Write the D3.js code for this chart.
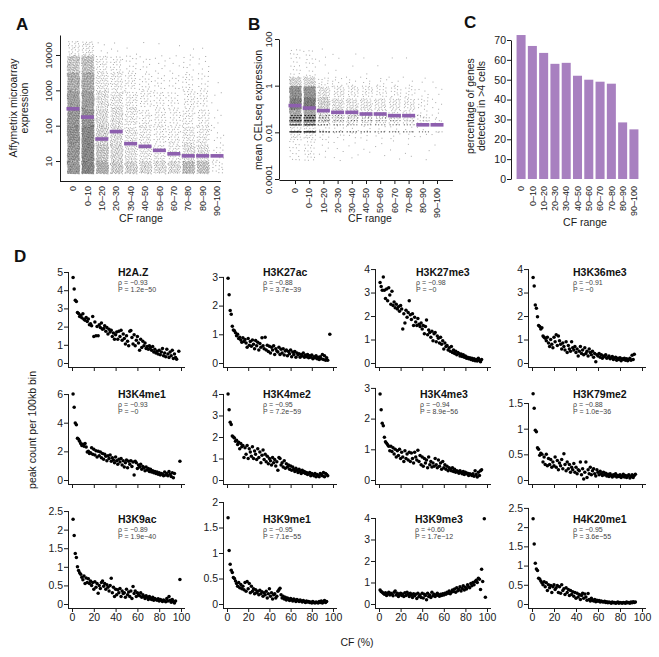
<!DOCTYPE html>
<html><head><meta charset="utf-8">
<script src="https://cdn.jsdelivr.net/npm/d3@7"></script>
<style>
body{margin:0;background:#fff;}
svg{display:block;font-family:"Liberation Sans",Arial,Helvetica,sans-serif;}
</style></head>
<body><svg id="c" width="659" height="657"></svg>
<script>
// ---------------- DATA ----------------
const categories = ["0","0–10","10–20","20–30","30–40","40–50","50–60","60–70","70–80","80–90","90–100"];

// Panel A: medians and point-cloud density (counts per log10 bin)
const aMedians = [300,175,42,68,31,26,20,16,14,14,14];
const aBinEdges = [0.65,1.0,1.5,2.0,2.5,3.0,3.5,4.0,4.4];
const aBinCounts = [
  [210,300,320,300,270,220,140,25],
  [260,360,360,310,270,230,160,30],
  [150,140,105,85,70,50,32,4],
  [90,95,80,70,55,40,25,3],
  [80,65,52,44,35,26,13,2],
  [68,50,40,31,26,18,9,1],
  [58,40,31,27,22,13,7,1],
  [62,40,31,22,18,11,5,1],
  [125,75,45,31,26,18,9,2],
  [108,66,40,31,22,13,7,1],
  [15,12,8,5,3,1,0,0]
];
const aTicks = [10,100,1000,10000];

// Panel B: medians, continuous cloud density and discrete low levels
const bMedians = [0.14,0.11,0.085,0.072,0.072,0.061,0.061,0.052,0.052,0.021,0.021];
const bBinEdges = [-3.2,-2.3,-1.6,-1.0,-0.5,0,0.4,1.6];
const bBinCounts = [
  [16,30,190,270,220,55,20],
  [22,34,200,280,210,50,18],
  [6,11,60,75,42,11,5],
  [5,9,40,45,27,7,3],
  [4,9,36,40,22,6,2],
  [3,7,32,36,20,5,2],
  [3,7,27,31,16,5,1],
  [3,7,25,29,14,4,1],
  [3,7,22,25,11,3,1],
  [2,5,11,11,5,2,0],
  [1,3,5,5,3,1,0]
];
const bLevels = [0.0105,0.021,0.0315,0.042,0.0525];
const bLevelCounts = [
  [55,42,32,25,18],[60,45,35,27,20],[22,16,11,9,7],[14,10,8,6,5],[13,9,7,6,5],
  [12,8,6,5,4],[11,8,6,5,4],[11,8,6,5,4],[10,7,5,4,3],[8,5,4,3,2],[3,2,1,1,0]
];
const bTicks = [0.0001,0.01,1,100];
const bTickLabels = ["0.0001","0.01","1","100"];

// Panel C
const cValues = [72.5,67,63.5,58,58.5,52,50,49,48,28.5,25];
const cTicks = [0,10,20,30,40,50,60,70];

// Panel D
const dNames = ["H2A.Z","H3K27ac","H3K27me3","H3K36me3","H3K4me1","H3K4me2","H3K4me3","H3K79me2","H3K9ac","H3K9me1","H3K9me3","H4K20me1"];
const dRho = ["−0.93","−0.88","−0.98","−0.91","−0.93","−0.95","−0.94","−0.88","−0.89","−0.95","+0.60","−0.95"];
const dP = ["1.2e−50","3.7e−39","~0","~0","~0","7.2e−59","8.9e−56","1.0e−36","1.9e−40","7.1e−55","1.7e−12","3.6e−55"];
const dYTicks = [
  [0,1,2,3,4,5],[0,1,2,3],[0,1,2,3,4],[0,1,2,3,4],
  [0,2,4,6],[0,1,2,3,4],[0,1,2,3],[0,0.5,1,1.5],
  [0,0.5,1,1.5,2,2.5],[0,0.5,1,1.5,2],[0,1,2,3,4],[0,0.5,1,1.5,2,2.5]
];
const dYMax = [5.33,3.38,4.13,4.13, 6.77,4.51,3.16,1.89, 2.77,2.02,4.79,2.68];
const xTicksD = [0,20,40,60,80,100];
// values at CF = 1,2,3,...
const dValues = [
 [4.7,4.07,3.45,3.38,2.78,2.72,2.55,2.62,2.48,2.7,2.4,2.35,2.5,2.28,2.42,2.1,2.15,2.05,2.55,1.45,2.25,1.5,2.0,1.5,2.1,1.95,2.2,1.85,1.9,2.05,1.75,1.95,1.6,1.85,1.7,1.8,1.45,1.65,1.3,1.55,1.7,1.3,1.75,1.45,1.8,1.25,1.6,1.35,1.05,1.5,1.2,0.95,1.75,1.78,1.4,1.05,1.55,0.95,1.25,1.45,1.1,0.7,1.3,0.85,1.2,0.95,1.1,0.8,0.9,0.75,0.95,0.85,0.7,0.9,0.6,0.75,0.55,0.65,0.5,0.7,0.45,0.6,0.8,0.4,0.55,0.35,0.75,0.5,0.3,0.6,0.4,0.7,0.25,0.5,0.3,0.2],
 [2.95,2.38,1.83,1.7,1.28,1.15,1.12,1.05,0.95,1.0,0.85,0.9,0.8,0.72,0.88,0.75,0.82,0.7,0.55,0.85,0.62,0.75,0.58,0.8,0.65,0.5,0.78,0.6,0.72,0.45,0.68,0.55,0.88,0.6,0.5,0.9,0.45,0.62,0.4,0.58,0.35,0.55,0.45,0.6,0.3,0.5,0.42,0.38,0.55,0.3,0.48,0.35,0.5,0.28,0.42,0.45,0.25,0.4,0.32,0.45,0.22,0.38,0.3,0.4,0.2,0.35,0.28,0.32,0.2,0.3,0.25,0.35,0.2,0.28,0.22,0.3,0.18,0.25,0.2,0.28,0.15,0.22,0.18,0.25,0.15,0.2,0.12,0.22,0.15,0.3,0.12,0.25,0.1,0.18,0.1],
 [3.43,3.26,3.1,3.66,3.1,2.75,3.15,2.65,3.2,2.9,2.5,3.05,2.45,2.6,2.35,2.5,2.3,2.4,2.2,2.45,2.3,1.45,2.1,1.7,2.25,1.95,2.15,2.65,2.05,1.85,2.1,1.6,1.95,1.75,1.6,1.9,1.65,1.55,1.7,1.45,1.6,1.25,1.55,1.83,1.2,1.4,1.3,1.1,1.35,0.95,1.25,1.3,0.9,1.15,1.05,0.85,1.1,0.8,0.95,0.6,0.85,0.7,0.75,0.55,0.65,0.5,0.7,0.45,0.55,0.4,0.5,0.35,0.45,0.4,0.3,0.38,0.28,0.35,0.25,0.3,0.2,0.25,0.18,0.22,0.15,0.2,0.12,0.18,0.1,0.15,0.08,0.2,0.12,0.05,0.15],
 [3.64,3.28,2.47,2.33,1.97,1.6,1.55,1.45,1.5,1.15,1.1,1.05,0.95,1.1,0.85,0.7,1.0,0.8,0.65,1.1,0.9,1.2,0.75,1.15,0.95,0.8,0.6,0.85,0.7,0.55,0.9,0.45,0.75,0.6,0.5,0.9,0.65,0.55,0.7,0.45,0.6,0.3,0.5,0.7,0.4,0.55,0.35,0.65,0.4,0.5,0.3,0.6,0.45,0.35,0.5,0.25,0.4,0.05,0.35,0.3,0.4,0.25,0.35,0.2,0.3,0.28,0.35,0.2,0.25,0.3,0.18,0.22,0.28,0.15,0.2,0.25,0.12,0.2,0.15,0.22,0.1,0.18,0.15,0.2,0.12,0.18,0.1,0.15,0.2,0.12,0.33,0.15,0.37],
 [6.0,5.07,3.97,3.85,2.92,2.85,2.7,2.55,2.4,2.5,2.35,2.55,2.3,1.95,2.0,1.85,1.9,2.25,1.8,2.15,1.75,2.05,1.6,2.0,1.7,1.95,1.55,1.85,1.45,1.8,1.65,1.35,1.7,1.5,1.75,1.3,1.55,1.4,1.2,1.6,1.35,1.1,1.45,1.25,1.5,1.05,1.35,0.9,1.2,1.4,0.85,1.3,1.1,1.35,0.95,1.25,0.35,1.3,1.2,0.8,1.05,0.9,1.1,0.75,0.95,0.85,0.65,0.9,0.7,0.8,0.6,0.75,0.55,0.65,0.5,0.6,0.45,0.55,0.4,0.5,0.35,0.45,0.4,0.3,0.55,0.35,0.45,0.3,0.6,0.4,0.25,0.5,0.15,0.45],
 [4.0,3.27,2.68,2.58,2.05,2.0,1.95,1.8,1.85,1.65,1.75,1.45,1.7,1.55,1.6,1.05,1.5,1.2,1.6,1.0,1.45,1.3,1.1,1.55,1.0,1.35,1.2,0.95,1.45,1.05,1.3,0.8,1.15,1.4,0.95,1.2,0.85,1.1,0.75,1.0,0.9,0.7,1.05,0.8,0.95,0.65,0.85,0.45,1.05,1.0,0.7,0.8,0.6,0.9,0.55,0.75,0.6,0.7,0.5,0.65,0.45,0.6,0.5,0.4,0.55,0.45,0.35,0.5,0.4,0.3,0.45,0.35,0.4,0.3,0.35,0.25,0.3,0.35,0.2,0.3,0.25,0.2,0.3,0.15,0.25,0.2,0.15,0.3,0.25,0.2,0.35,0.15,0.3,0.25,0.2],
 [2.8,2.29,1.85,1.77,1.39,1.25,1.2,1.15,1.1,0.95,1.1,0.93,1.05,0.85,1.0,0.75,0.95,0.8,1.0,0.7,0.9,0.75,0.6,0.95,0.7,0.85,0.65,0.9,0.6,0.88,0.7,0.55,0.9,0.75,0.65,0.97,0.6,0.8,0.5,0.75,0.45,0.7,0.55,0.65,0.4,0.75,0.5,0.6,0.42,0.55,0.45,0.7,0.5,0.4,0.65,0.45,0.55,0.35,0.6,0.4,0.5,0.35,0.45,0.3,0.4,0.35,0.3,0.4,0.28,0.35,0.25,0.3,0.28,0.22,0.3,0.25,0.2,0.28,0.18,0.25,0.2,0.22,0.15,0.2,0.18,0.15,0.2,0.12,0.3,0.18,0.1,0.25,0.15,0.3,0.33],
 [1.68,1.4,0.97,0.94,0.63,0.6,0.48,0.52,0.5,0.35,0.45,0.3,0.5,0.28,0.42,0.3,0.4,0.25,0.35,0.28,0.45,0.25,0.38,0.2,0.33,0.28,0.4,0.22,0.51,0.3,0.18,0.35,0.22,0.3,0.15,0.25,0.2,0.32,0.15,0.25,0.12,0.2,0.18,0.35,0.1,0.22,0.02,0.15,0.35,0.05,0.2,0.12,0.25,0.1,0.18,0.22,0.12,0.08,0.2,0.15,0.1,0.17,0.12,0.09,0.15,0.1,0.13,0.08,0.11,0.07,0.12,0.09,0.06,0.1,0.08,0.12,0.06,0.09,0.07,0.1,0.05,0.08,0.11,0.06,0.09,0.05,0.08,0.1,0.04,0.07,0.1,0.05,0.09,0.11],
 [2.28,1.84,1.36,1.25,1.0,0.9,0.84,0.8,0.72,0.65,0.75,0.55,0.7,0.58,0.68,0.55,0.62,0.5,0.58,0.4,0.6,0.45,0.55,0.29,0.5,0.42,0.58,0.62,0.48,0.55,0.4,0.52,0.45,0.35,0.5,0.69,0.3,0.45,0.2,0.4,0.25,0.38,0.3,0.42,0.2,0.35,0.28,0.3,0.18,0.4,0.25,0.32,0.2,0.35,0.15,0.47,0.28,0.35,0.2,0.3,0.25,0.22,0.3,0.18,0.25,0.2,0.15,0.22,0.18,0.12,0.2,0.15,0.12,0.18,0.1,0.15,0.12,0.1,0.14,0.08,0.12,0.1,0.07,0.11,0.09,0.06,0.15,0.08,0.2,0.1,0.05,0.12,0.06,0.03,0.08],
 [1.69,1.05,0.78,0.66,0.62,0.52,0.5,0.45,0.4,0.35,0.42,0.32,0.38,0.3,0.35,0.28,0.42,0.25,0.44,0.3,0.4,0.22,0.35,0.25,0.3,0.2,0.28,0.22,0.25,0.18,0.27,0.2,0.24,0.15,0.22,0.18,0.25,0.12,0.2,0.3,0.15,0.22,0.1,0.18,0.2,0.12,0.15,0.25,0.28,0.31,0.18,0.12,0.15,0.1,0.13,0.08,0.12,0.1,0.07,0.11,0.09,0.06,0.1,0.08,0.05,0.09,0.07,0.05,0.08,0.06,0.04,0.07,0.05,0.03,0.06,0.04,0.05,0.03,0.04,0.02,0.05,0.03,0.02,0.04,0.03,0.02,0.05,0.03,0.06,0.02,0.04,0.07,0.03,0.05],
 [0.65,0.58,0.55,0.5,0.45,0.52,0.4,0.48,0.55,0.42,0.5,0.45,0.38,0.55,0.6,0.42,0.5,0.35,0.45,0.5,0.4,0.47,0.35,0.52,0.4,0.55,0.45,0.35,0.5,0.42,0.3,0.48,0.38,0.45,0.25,0.5,0.35,0.42,0.3,0.5,0.28,0.45,0.4,0.2,0.5,0.35,0.42,0.3,0.55,0.38,0.45,0.35,0.42,0.5,0.4,0.36,0.45,0.4,0.48,0.42,0.5,0.45,0.55,0.5,0.6,0.48,0.55,0.65,0.58,0.7,0.55,0.75,0.62,0.68,0.8,0.6,0.72,0.85,0.65,0.78,0.7,0.9,0.8,0.75,0.95,0.85,1.0,0.9,1.05,1.1,1.0,1.2,1.15,0.68,1.62,1.05],
 [2.22,1.56,1.06,0.91,0.87,0.67,0.65,0.6,0.55,0.5,0.58,0.45,0.55,0.35,0.5,0.42,0.48,0.3,0.45,0.5,0.38,0.42,0.48,0.3,0.45,0.28,0.5,0.35,0.4,0.25,0.42,0.3,0.38,0.22,0.35,0.25,0.32,0.2,0.3,0.15,0.28,0.18,0.25,0.12,0.22,0.28,0.15,0.26,0.18,0.1,0.27,0.12,0.08,0.15,0.1,0.08,0.12,0.06,0.1,0.07,0.09,0.05,0.08,0.06,0.05,0.07,0.04,0.06,0.03,0.05,0.04,0.02,0.05,0.03,0.04,0.02,0.03,0.05,0.02,0.04,0.03,0.02,0.04,0.03,0.02,0.05,0.03,0.04,0.02,0.05,0.03,0.06,0.04,0.05]
];
// extra isolated points [CF, value]
const dExtra = [[[98,0.65]],[[97,1.0]],[],[],[[99,1.3]],[],[],[],[[99,0.66]],[],[[97.5,3.97],[98.5,0.31]],[]];

// ---------------- LAYOUT ----------------
const svg = d3.select("#c");
svg.append("rect").attr("width",659).attr("height",657).attr("fill","#fff");
const INK = "#1a1a1a";
const MED = "#8d5fae";
const BAR = "#a880c0";
const fmt = d3.format("~g");

function letter(t,x,y){ svg.append("text").attr("x",x).attr("y",y).attr("font-size",17).attr("font-weight","bold").attr("fill","#111").text(t); }
letter("A",16,30); letter("B",248,30); letter("C",464,28); letter("D",14,262);

// quasi-uniform jitter sequence (R2 low-discrepancy) for strip placement
function q(n){ return [(0.5+n*0.7548776662)%1, (0.5+n*0.5698402910)%1]; }

function rotLabels(g, xs, labels, yTop, size){
  labels.forEach((l,i)=>{
    g.append("text").attr("transform",`translate(${xs(l)},${yTop}) rotate(-90)`)
     .attr("text-anchor","end").attr("dy","0.35em").attr("font-size",size).attr("fill",INK).text(l);
  });
}

// ---------------- PANEL A ----------------
{
  const g = svg.append("g");
  const x = d3.scalePoint().domain(categories).range([73,217]);
  const y = d3.scaleLog().domain([2.72,36800]).range([181,35]);
  const pts = g.append("g");
  categories.forEach((c,ci)=>{
    let n=0;
    aBinCounts[ci].forEach((cnt,b)=>{
      const e0=aBinEdges[b], e1=aBinEdges[b+1];
      for(let k=0;k<cnt;k++){
        n++; const [u,v]=q(n+ci*7);
        pts.append("rect").attr("x",x(c)+(u-0.5)*12.5).attr("y",y(Math.pow(10,e0+v*(e1-e0))))
          .attr("width",1).attr("height",1).attr("fill","#000").attr("opacity",0.36);
      }
    });
  });
  g.selectAll(".med").data(aMedians).enter().append("rect")
    .attr("x",(d,i)=>x(categories[i])-6.5).attr("y",d=>y(d)-1.8).attr("width",13).attr("height",3.6).attr("fill",MED);
  const ax = g.append("g").attr("transform","translate(60,0)")
    .call(d3.axisLeft(y).tickValues(aTicks).tickFormat(d3.format("d")).tickSize(4).tickSizeOuter(0));
  ax.select(".domain").attr("stroke",INK);
  ax.selectAll("line").attr("stroke",INK);
  ax.selectAll("text").attr("transform","rotate(-90)").attr("x",0).attr("y",-8).attr("dy",0)
    .attr("text-anchor","middle").attr("font-size",9.5).attr("fill",INK).attr("font-family",null);
  g.append("line").attr("x1",60).attr("x2",221).attr("y1",181.5).attr("y2",181.5).attr("stroke",INK);
  rotLabels(g,x,categories,186,9);
  g.append("text").attr("transform","translate(17,108) rotate(-90)").attr("text-anchor","middle").attr("font-size",10.5).attr("fill",INK).text("Affymetrix microarray");
  g.append("text").attr("transform","translate(28,108) rotate(-90)").attr("text-anchor","middle").attr("font-size",10.5).attr("fill",INK).text("expression");
  g.append("text").attr("x",141).attr("y",222).attr("text-anchor","middle").attr("font-size",10.5).attr("fill",INK).text("CF range");
}

// ---------------- PANEL B ----------------
{
  const g = svg.append("g");
  const x = d3.scalePoint().domain(categories).range([295,437]);
  const y = d3.scaleLog().domain([1e-4,100]).range([179,39]);
  const pts = g.append("g");
  categories.forEach((c,ci)=>{
    let n=0;
    bBinCounts[ci].forEach((cnt,b)=>{
      const e0=bBinEdges[b], e1=bBinEdges[b+1];
      for(let k=0;k<cnt;k++){
        n++; const [u,v]=q(n+ci*11);
        pts.append("rect").attr("x",x(c)+(u-0.5)*12).attr("y",y(Math.pow(10,e0+v*(e1-e0))))
          .attr("width",1).attr("height",1).attr("fill","#000").attr("opacity",0.34);
      }
    });
    bLevelCounts[ci].forEach((cnt,l)=>{
      for(let k=0;k<cnt;k++){
        n++; const [u]=q(n+ci*11);
        pts.append("rect").attr("x",x(c)+(u-0.5)*12).attr("y",y(bLevels[l])-0.5)
          .attr("width",1).attr("height",1).attr("fill","#000").attr("opacity",0.4);
      }
    });
  });
  g.selectAll(".med").data(bMedians).enter().append("rect")
    .attr("x",(d,i)=>x(categories[i])-6.5).attr("y",d=>y(d)-1.8).attr("width",13).attr("height",3.6).attr("fill",MED);
  const ax = g.append("g").attr("transform","translate(279,0)")
    .call(d3.axisLeft(y).tickValues(bTicks).tickFormat((d,i)=>bTickLabels[i]).tickSize(4).tickSizeOuter(0));
  ax.select(".domain").attr("stroke",INK);
  ax.selectAll("line").attr("stroke",INK);
  ax.selectAll("text").attr("transform","rotate(-90)").attr("x",0).attr("y",-7).attr("dy",0)
    .attr("text-anchor","middle").attr("font-size",9.5).attr("fill",INK).attr("font-family",null);
  const bx = g.append("g").attr("transform","translate(0,180)")
    .call(d3.axisBottom(x).tickSize(4).tickSizeOuter(0).tickFormat(""));
  bx.select(".domain").attr("d","M279.5,0.5H453").attr("stroke",INK);
  bx.selectAll("line").attr("stroke",INK);
  rotLabels(g,x,categories,188,9);
  g.append("text").attr("transform","translate(262,110) rotate(-90)").attr("text-anchor","middle").attr("font-size",10.5).attr("fill",INK).text("mean CELseq expression");
  g.append("text").attr("x",370).attr("y",222).attr("text-anchor","middle").attr("font-size",10.5).attr("fill",INK).text("CF range");
}

// ---------------- PANEL C ----------------
{
  const g = svg.append("g");
  const x = d3.scaleBand().domain(categories).range([516,639]).paddingInner(0.2).paddingOuter(0.05);
  const y = d3.scaleLinear().domain([0,70]).range([179,40]);
  g.selectAll(".bar").data(cValues).enter().append("rect")
    .attr("x",(d,i)=>x(categories[i])).attr("y",d=>y(d)).attr("width",x.bandwidth()).attr("height",d=>y(0)-y(d)).attr("fill",BAR);
  const ax = g.append("g").attr("transform","translate(511,0)")
    .call(d3.axisLeft(y).tickValues(cTicks).tickSize(4).tickSizeOuter(0));
  ax.select(".domain").attr("stroke",INK);
  ax.selectAll("line").attr("stroke",INK);
  ax.selectAll("text").attr("font-size",10.5).attr("fill",INK).attr("font-family",null).attr("x",-5);
  const xc = d3.scalePoint().domain(categories).range([x(categories[0])+x.bandwidth()/2, x(categories[10])+x.bandwidth()/2]);
  rotLabels(g,xc,categories,186,9);
  g.append("text").attr("transform","translate(474,106) rotate(-90)").attr("text-anchor","middle").attr("font-size",10.5).attr("fill",INK).text("percentage of genes");
  g.append("text").attr("transform","translate(485,106) rotate(-90)").attr("text-anchor","middle").attr("font-size",10.5).attr("fill",INK).text("detected in >4 cells");
  g.append("text").attr("x",585).attr("y",226).attr("text-anchor","middle").attr("font-size",10.5).attr("fill",INK).text("CF range");
}

// ---------------- PANEL D ----------------
{
  const cols = [{x0:72,x1:181},{x0:227,x1:333},{x0:379,x1:487},{x0:532,x1:642}];
  const rows = [{zero:363,top:266,axis:367,title:276},{zero:480,top:383,axis:484,title:398},{zero:604,top:501,axis:608,title:523}];
  const titleDx = [46,36,37,41,46,36,41,41,46,36,36,41];
  dNames.forEach((name,p)=>{
    const c = cols[p%4], r = rows[Math.floor(p/4)];
    const g = svg.append("g");
    const x = d3.scaleLinear().domain([0,100]).range([c.x0,c.x1]);
    const y = d3.scaleLinear().domain([0,dYMax[p]]).range([r.zero,r.top]);
    const pts = dValues[p].map((v,i)=>[i+1,v]).concat(dExtra[p]);
    g.selectAll("circle").data(pts).enter().append("circle")
      .attr("cx",d=>x(d[0])).attr("cy",d=>y(d[1])).attr("r",1.75).attr("fill","#000");
    const yx = c.x0-4;
    const ay = g.append("g").attr("transform",`translate(${yx},0)`)
      .call(d3.axisLeft(y).tickValues(dYTicks[p]).tickFormat(fmt).tickSize(4).tickSizeOuter(0));
    ay.select(".domain").remove();
    ay.selectAll("line").attr("stroke",INK);
    ay.selectAll("text").attr("font-size",10.5).attr("fill",INK).attr("font-family",null).attr("x",-5);
    const topTick = dYTicks[p][dYTicks[p].length-1];
    g.append("line").attr("x1",yx+0.5).attr("x2",yx+0.5).attr("y1",y(topTick)).attr("y2",r.axis).attr("stroke",INK);
    const axb = g.append("g").attr("transform",`translate(0,${r.axis})`)
      .call(d3.axisBottom(x).tickValues(xTicksD).tickFormat(fmt).tickSize(4).tickSizeOuter(0));
    axb.select(".domain").remove();
    axb.selectAll("line").attr("stroke",INK);
    axb.selectAll("text").attr("font-size",10.5).attr("fill",INK).attr("font-family",null).attr("y",6);
    if(Math.floor(p/4)<2) axb.selectAll("text").remove();
    g.append("line").attr("x1",yx).attr("x2",x(100)+4).attr("y1",r.axis+0.5).attr("y2",r.axis+0.5).attr("stroke",INK);
    const tx = c.x0+titleDx[p];
    g.append("text").attr("x",tx).attr("y",r.title).attr("font-size",10.5).attr("font-weight","bold").attr("fill","#111").text(name);
    g.append("text").attr("x",tx).attr("y",r.title+8.5).attr("font-size",7).attr("fill","#444").text("ρ = "+dRho[p]);
    g.append("text").attr("x",tx).attr("y",r.title+15.5).attr("font-size",7).attr("fill","#444").text("P = "+dP[p]);
  });
  svg.append("text").attr("transform","translate(36,430) rotate(-90)").attr("text-anchor","middle").attr("font-size",10.5).attr("fill",INK).text("peak count per 100kb bin");
  svg.append("text").attr("x",357).attr("y",646).attr("text-anchor","middle").attr("font-size",10.5).attr("fill",INK).text("CF (%)");
}
</script></body></html>
